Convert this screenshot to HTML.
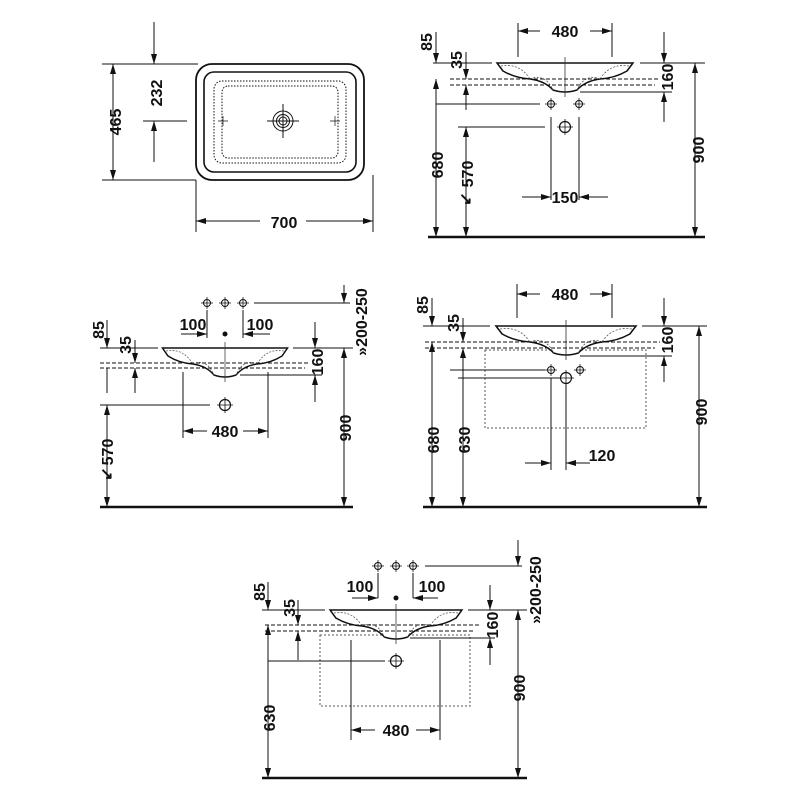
<!DOCTYPE html>
<html><head><meta charset="utf-8"><style>
html,body{margin:0;padding:0;background:#fff}
svg{display:block}
text{font-family:"Liberation Sans",sans-serif;font-weight:bold;font-size:16px;fill:#111}
</style></head><body>
<svg width="800" height="800" viewBox="0 0 800 800" xmlns="http://www.w3.org/2000/svg">
<defs>
<marker id="a" viewBox="0 0 10 6" refX="10" refY="3" markerWidth="10" markerHeight="6" markerUnits="userSpaceOnUse" orient="auto-start-reverse"><path d="M0 0L10 3L0 6Z" fill="#111"/></marker>
<g id="basin">
<path d="M-68 0L68 0L62 8Q50 15 35 16Q20 18 12 27Q0 31 -12 27Q-20 18 -35 16Q-50 15 -62 8Z" fill="#fff" stroke="#111" stroke-width="1.5"/>
<path d="M-64 3Q-45 0 -35 16M64 3Q45 0 35 16M-35 16Q-20 10 -12 27M35 16Q20 10 12 27" fill="none" stroke="#555" stroke-width="0.8" stroke-dasharray="2 1.5"/>
<line x1="0" y1="-6" x2="0" y2="34" stroke="#333" stroke-width="0.8"/>
</g>
<g id="valve"><circle r="3.5" fill="none" stroke="#111" stroke-width="1"/><path d="M-6 0H6M0 -6V6" stroke="#111" stroke-width="0.8"/></g>
<g id="drain"><circle r="5.5" fill="none" stroke="#111" stroke-width="1.2"/><path d="M-8 0H8M0 -8V8" stroke="#111" stroke-width="0.8"/></g>
</defs>
<g stroke="#111" stroke-width="1" fill="none">
<!-- Panel 1 -->
<rect x="196" y="64" width="168" height="116" rx="16" stroke-width="1.8"/>
<rect x="204" y="72" width="152" height="100" rx="10" stroke-width="1.6"/>
<rect x="214" y="81" width="132" height="82" rx="8" stroke-dasharray="1.5 1.5" stroke-width="1"/>
<rect x="222" y="86" width="116" height="72" rx="6" stroke-dasharray="1.5 1.5" stroke-width="1"/>
<circle cx="283" cy="121" r="10"/><circle cx="283" cy="121" r="6.5"/><circle cx="283" cy="121" r="4"/>
<path d="M267 121H299M283 104V138"/>
<path d="M218 121h10M223 116v10M340 121h-10M335 116v10" stroke-width="0.7"/>
<path d="M102 64H198M102 180H196M143 121H187M196 180V232M373 175V232"/>
<line x1="113" y1="64" x2="113" y2="180" marker-start="url(#a)" marker-end="url(#a)"/>
<line x1="154" y1="22" x2="154" y2="64" marker-end="url(#a)"/>
<line x1="154" y1="162" x2="154" y2="121" marker-end="url(#a)"/>
<line x1="196" y1="221" x2="260" y2="221" marker-start="url(#a)"/>
<line x1="306" y1="221" x2="373" y2="221" marker-end="url(#a)"/>

<!-- Panel 2 -->
<use href="#basin" transform="translate(565,63)"/>
<path d="M428 237H705" stroke-width="2.5"/>
<path d="M450 79H660M450 85H655" stroke-dasharray="4 2"/>
<path d="M433 63H492M640 63H705M580 92H672M436 104H540M458 127H545M551 117V200M579 117V200M518 23V57M612 23V57"/>
<use href="#valve" x="551" y="104"/><use href="#valve" x="579" y="104"/><use href="#drain" x="565" y="127"/>
<line x1="518" y1="31" x2="540" y2="31" marker-start="url(#a)"/>
<line x1="590" y1="31" x2="612" y2="31" marker-end="url(#a)"/>
<line x1="436" y1="32" x2="436" y2="63" marker-end="url(#a)"/>
<line x1="466" y1="52" x2="466" y2="79" marker-end="url(#a)"/>
<line x1="466" y1="110" x2="466" y2="85" marker-end="url(#a)"/>
<line x1="664" y1="32" x2="664" y2="63" marker-end="url(#a)"/>
<line x1="664" y1="122" x2="664" y2="92" marker-end="url(#a)"/>
<line x1="695" y1="63" x2="695" y2="237" marker-start="url(#a)" marker-end="url(#a)"/>
<line x1="436" y1="79" x2="436" y2="237" marker-start="url(#a)" marker-end="url(#a)"/>
<line x1="466" y1="127" x2="466" y2="237" marker-start="url(#a)" marker-end="url(#a)"/>
<line x1="522" y1="197" x2="551" y2="197" marker-end="url(#a)"/>
<line x1="608" y1="197" x2="579" y2="197" marker-end="url(#a)"/>

<!-- Panel 3 -->
<use href="#basin" transform="translate(225,348) scale(0.92,1)"/>
<path d="M100 507H353" stroke-width="2.5"/>
<path d="M100 363H310M100 368H305" stroke-dasharray="4 2"/>
<path d="M100 348H158M293 348H353M254 303H350M240 375H322M100 405H210M183 372V438M268 372V438M207 310V338M243 310V338"/>
<use href="#valve" x="207" y="303"/><use href="#valve" x="225" y="303"/><use href="#valve" x="243" y="303"/>
<circle cx="225" cy="334" r="2" fill="#111"/>
<use href="#drain" x="225" y="405"/>
<line x1="181" y1="334" x2="207" y2="334" marker-end="url(#a)"/>
<line x1="270" y1="334" x2="243" y2="334" marker-end="url(#a)"/>
<line x1="107" y1="320" x2="107" y2="348" marker-end="url(#a)"/>
<line x1="135" y1="340" x2="135" y2="363" marker-end="url(#a)"/>
<line x1="135" y1="393" x2="135" y2="368" marker-end="url(#a)"/>
<line x1="107" y1="368" x2="107" y2="393"/>
<line x1="315" y1="322" x2="315" y2="348" marker-end="url(#a)"/>
<line x1="315" y1="402" x2="315" y2="375" marker-end="url(#a)"/>
<line x1="344" y1="285" x2="344" y2="303" marker-end="url(#a)"/>
<line x1="344" y1="348" x2="344" y2="507" marker-start="url(#a)" marker-end="url(#a)"/>
<line x1="107" y1="405" x2="107" y2="507" marker-start="url(#a)" marker-end="url(#a)"/>
<line x1="183" y1="431" x2="207" y2="431" marker-start="url(#a)"/>
<line x1="243" y1="431" x2="268" y2="431" marker-end="url(#a)"/>

<!-- Panel 4 -->
<rect x="485" y="350" width="161" height="78" stroke-dasharray="2 2" stroke="#555"/>
<use href="#basin" transform="translate(566,326) scale(1.03,1)"/>
<path d="M423 507H707" stroke-width="2.5"/>
<path d="M425 342H660M425 348H655" stroke-dasharray="4 2"/>
<path d="M423 326H490M642 326H707M580 356H672M450 370H545M458 378H560M551 378V470M566 383V470M517 284V318M612 284V318"/>
<use href="#valve" x="551" y="370"/><use href="#valve" x="580" y="370"/><use href="#drain" x="566" y="378"/>
<line x1="517" y1="294" x2="540" y2="294" marker-start="url(#a)"/>
<line x1="590" y1="294" x2="612" y2="294" marker-end="url(#a)"/>
<line x1="432" y1="298" x2="432" y2="326" marker-end="url(#a)"/>
<line x1="463" y1="318" x2="463" y2="342" marker-end="url(#a)"/>
<line x1="432" y1="342" x2="432" y2="507" marker-start="url(#a)" marker-end="url(#a)"/>
<line x1="463" y1="348" x2="463" y2="507" marker-start="url(#a)" marker-end="url(#a)"/>
<line x1="664" y1="298" x2="664" y2="326" marker-end="url(#a)"/>
<line x1="664" y1="382" x2="664" y2="356" marker-end="url(#a)"/>
<line x1="699" y1="326" x2="699" y2="507" marker-start="url(#a)" marker-end="url(#a)"/>
<line x1="525" y1="463" x2="551" y2="463" marker-end="url(#a)"/>
<line x1="590" y1="463" x2="566" y2="463" marker-end="url(#a)"/>

<!-- Panel 5 -->
<rect x="320" y="635" width="150" height="71" stroke-dasharray="2 2" stroke="#555"/>
<use href="#basin" transform="translate(396,610) scale(0.97,1)"/>
<path d="M262 778H527" stroke-width="2.5"/>
<path d="M265 625H480M265 631H475" stroke-dasharray="4 2"/>
<path d="M262 610H325M468 610H527M425 566H522M410 638H495M268 661H385M351 640V740M440 640V740M378 573V598M413 573V598"/>
<use href="#valve" x="378" y="566"/><use href="#valve" x="396" y="566"/><use href="#valve" x="413" y="566"/>
<circle cx="396" cy="598" r="2" fill="#111"/>
<use href="#drain" x="396" y="661"/>
<line x1="352" y1="598" x2="378" y2="598" marker-end="url(#a)"/>
<line x1="438" y1="598" x2="413" y2="598" marker-end="url(#a)"/>
<line x1="268" y1="582" x2="268" y2="610" marker-end="url(#a)"/>
<line x1="298" y1="600" x2="298" y2="625" marker-end="url(#a)"/>
<line x1="298" y1="660" x2="298" y2="631" marker-end="url(#a)"/>
<line x1="490" y1="585" x2="490" y2="610" marker-end="url(#a)"/>
<line x1="490" y1="665" x2="490" y2="638" marker-end="url(#a)"/>
<line x1="518" y1="540" x2="518" y2="566" marker-end="url(#a)"/>
<line x1="518" y1="610" x2="518" y2="778" marker-start="url(#a)" marker-end="url(#a)"/>
<line x1="268" y1="625" x2="268" y2="778" marker-start="url(#a)" marker-end="url(#a)"/>
<line x1="351" y1="730" x2="375" y2="730" marker-start="url(#a)"/>
<line x1="416" y1="730" x2="440" y2="730" marker-end="url(#a)"/>
</g>

<!-- Text -->
<g>
<text x="284" y="228" font-size="19" text-anchor="middle">700</text>
<text transform="translate(121,122) rotate(-90)" font-size="20" text-anchor="middle">465</text>
<text transform="translate(162,93) rotate(-90)" font-size="20" text-anchor="middle">232</text>

<text x="565" y="37" text-anchor="middle">480</text>
<text transform="translate(432,42) rotate(-90)" font-size="14" text-anchor="middle">85</text>
<text transform="translate(462,60) rotate(-90)" font-size="14" text-anchor="middle">35</text>
<text transform="translate(673,77) rotate(-90)" font-size="16" text-anchor="middle">160</text>
<text transform="translate(704,150) rotate(-90)" font-size="16" text-anchor="middle">900</text>
<text transform="translate(443,165) rotate(-90)" font-size="16" text-anchor="middle">680</text>
<text transform="translate(473,174) rotate(-90)" font-size="16" text-anchor="middle">570</text>
<text x="459" y="204" font-size="12">↘</text>
<text x="565" y="203" text-anchor="middle">150</text>

<text x="193" y="330" font-size="14" text-anchor="middle">100</text>
<text x="260" y="330" font-size="14" text-anchor="middle">100</text>
<text transform="translate(104,330) rotate(-90)" font-size="14" text-anchor="middle">85</text>
<text transform="translate(131,345) rotate(-90)" font-size="14" text-anchor="middle">35</text>
<text transform="translate(323,362) rotate(-90)" font-size="15" text-anchor="middle">160</text>
<text transform="translate(367,322) rotate(-90)" font-size="15" text-anchor="middle">»200-250</text>
<text transform="translate(351,428) rotate(-90)" font-size="15" text-anchor="middle">900</text>
<text transform="translate(113,452) rotate(-90)" font-size="15" text-anchor="middle">570</text>
<text x="100" y="479" font-size="12">↘</text>
<text x="225" y="437" text-anchor="middle">480</text>

<text x="565" y="300" text-anchor="middle">480</text>
<text transform="translate(428,305) rotate(-90)" font-size="14" text-anchor="middle">85</text>
<text transform="translate(459,323) rotate(-90)" font-size="14" text-anchor="middle">35</text>
<text transform="translate(673,340) rotate(-90)" font-size="16" text-anchor="middle">160</text>
<text transform="translate(707,412) rotate(-90)" font-size="16" text-anchor="middle">900</text>
<text transform="translate(439,440) rotate(-90)" font-size="16" text-anchor="middle">680</text>
<text transform="translate(470,440) rotate(-90)" font-size="16" text-anchor="middle">630</text>
<text x="602" y="461" font-size="15" text-anchor="middle">120</text>

<text x="360" y="592" font-size="14" text-anchor="middle">100</text>
<text x="432" y="592" font-size="14" text-anchor="middle">100</text>
<text transform="translate(265,592) rotate(-90)" font-size="14" text-anchor="middle">85</text>
<text transform="translate(295,608) rotate(-90)" font-size="14" text-anchor="middle">35</text>
<text transform="translate(498,625) rotate(-90)" font-size="15" text-anchor="middle">160</text>
<text transform="translate(541,590) rotate(-90)" font-size="15" text-anchor="middle">»200-250</text>
<text transform="translate(525,688) rotate(-90)" font-size="15" text-anchor="middle">900</text>
<text transform="translate(275,718) rotate(-90)" font-size="15" text-anchor="middle">630</text>
<text x="396" y="736" font-size="15" text-anchor="middle">480</text>
</g>
</svg>
</body></html>
